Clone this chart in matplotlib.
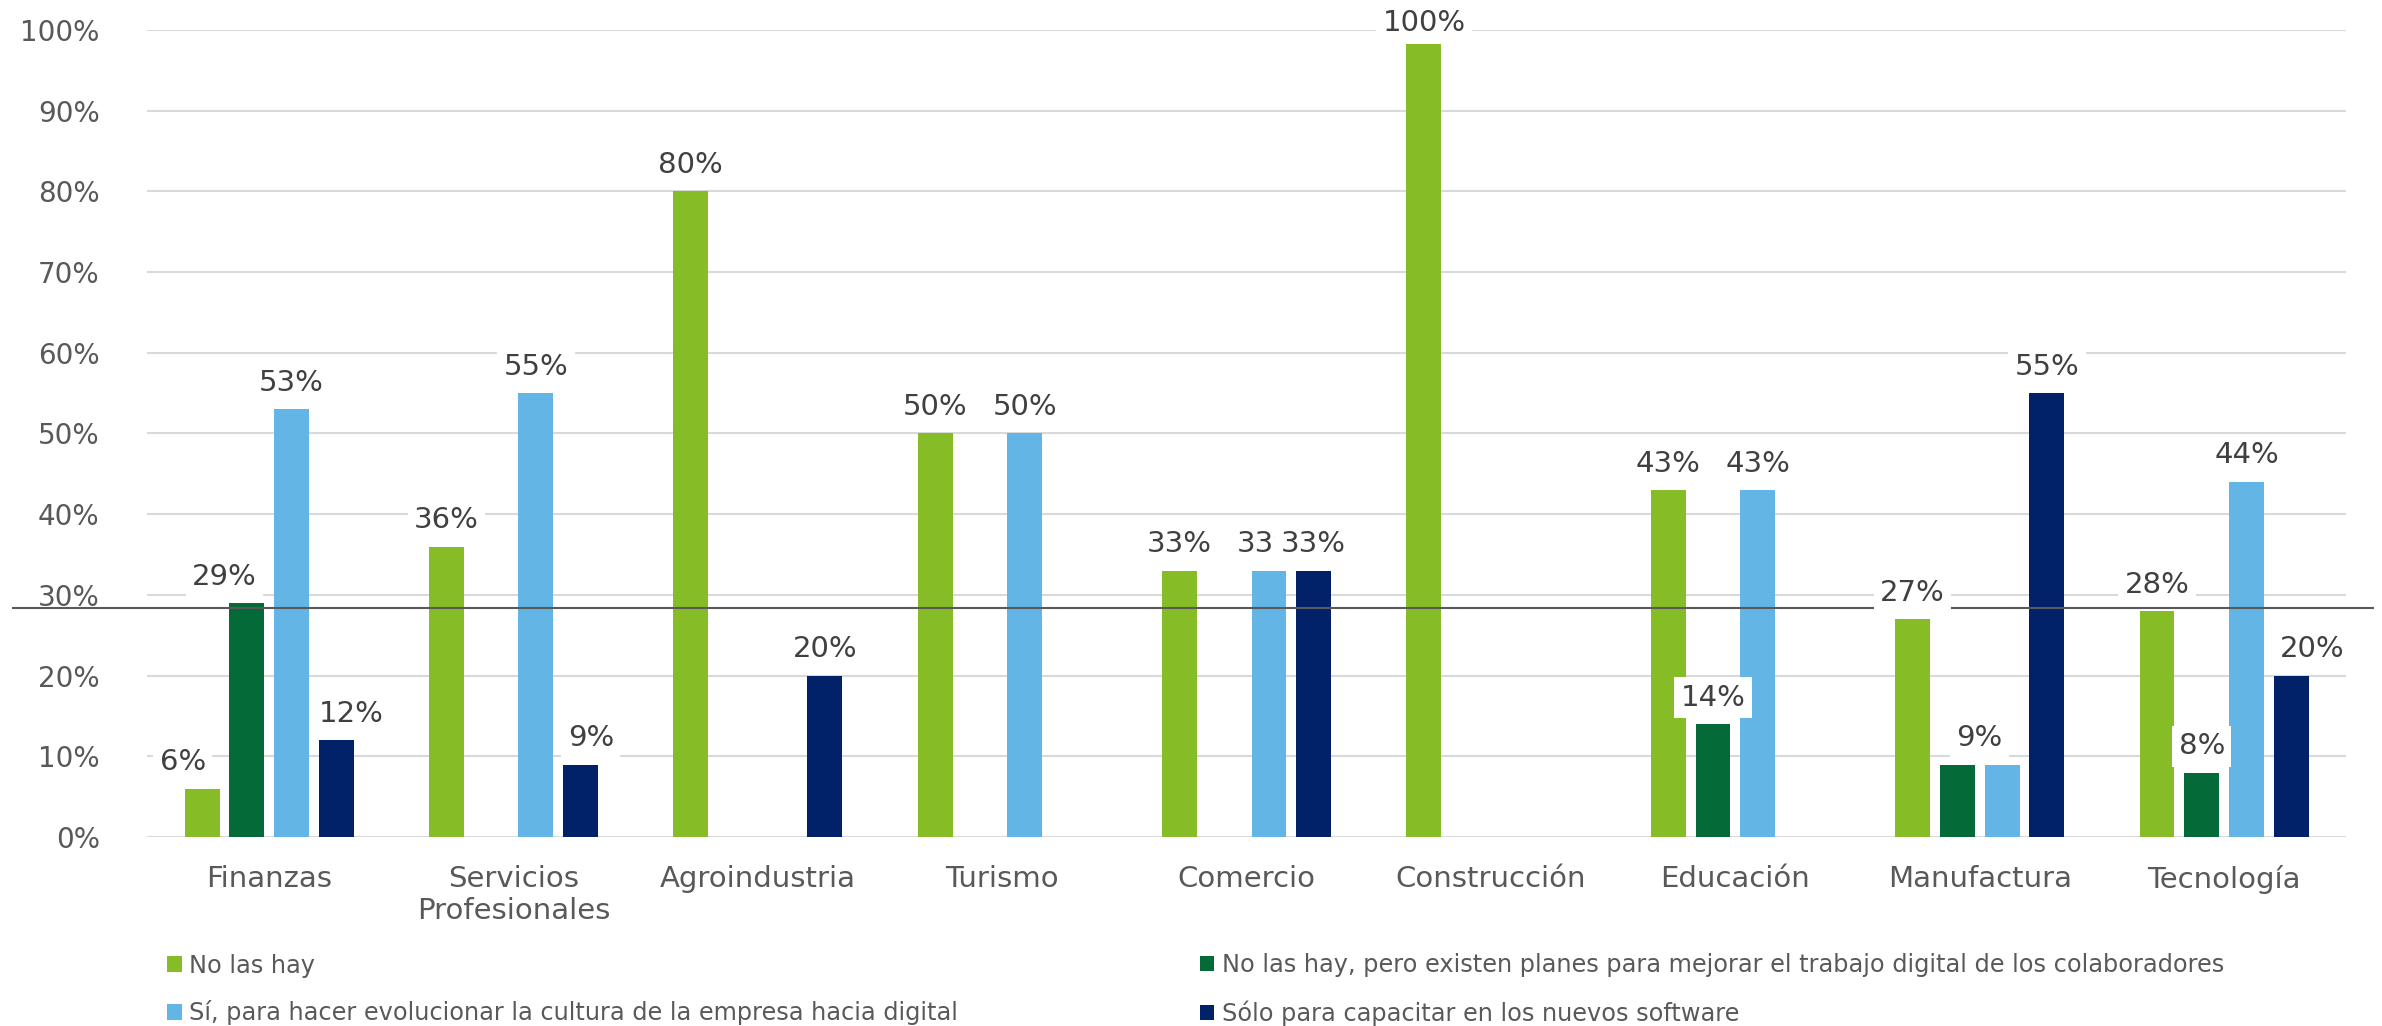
import matplotlib
matplotlib.use("Agg")
import matplotlib.pyplot as plt
import numpy as np
from matplotlib.ticker import PercentFormatter

categories = ["Finanzas", "Servicios\nProfesionales", "Agroindustria", "Turismo",
              "Comercio", "Construcción", "Educación", "Manufactura", "Tecnología"]

series_names = [
    "No las hay",
    "No las hay, pero existen planes para mejorar el trabajo digital de los colaboradores",
    "Sí, para hacer evolucionar la cultura de la empresa hacia digital",
    "Sólo para capacitar en los nuevos software",
]
no_las_hay = [6, 36, 80, 50, 33, 100, 43, 27, 28]
planes = [29, 0, 0, 0, 0, 0, 14, 9, 8]
cultura = [53, 55, 0, 50, 33, 0, 43, 9, 44]
software = [12, 9, 20, 0, 33, 0, 0, 55, 20]
colors = ["#86BC25", "#046A38", "#62B5E5", "#012169"]

ref_value = 28.4
yticks = list(range(0, 101, 10))

fig = plt.figure(figsize=(23.82, 10.26), dpi=100)
ax = fig.add_axes([0.0617, 0.184, 0.9233, 0.787])

x = np.arange(len(categories))
step, width = 0.183, 0.143
offsets = (np.arange(4) - 1.5) * step
all_series = [no_las_hay, planes, cultura, software]

# sideways nudges (series, category) -> x shift, to keep crowded labels apart
label_shift = {(0, 0): -0.079, (1, 0): -0.092, (3, 0): 0.063, (3, 1): 0.042,
               (3, 8): 0.086, (1, 7): step / 2, (2, 7): -step / 2}

bars = []
for i, (vals, col) in enumerate(zip(all_series, colors)):
    b = ax.bar(x + offsets[i], vals, width, color=col, label=series_names[i], zorder=2)
    bars.append(b)

# value labels on white boxes, drawn series by series so later boxes sit on top
for i, vals in enumerate(all_series):
    for j, v in enumerate(vals):
        if v == 0:
            continue
        xpos = x[j] + offsets[i] + label_shift.get((i, j), 0.0)
        ax.annotate(f"{v}%", (xpos, min(v, 97.5)), xytext=(0, 9),
                    textcoords="offset points", ha="center", va="bottom",
                    fontsize=21, color="#404040", zorder=4 + i,
                    bbox=dict(boxstyle="square,pad=0.22", fc="white", ec="none"),
                    annotation_clip=False)

ax.set_xlim(-0.5, 8.5)
ax.set_ylim(0, 100)
ax.set_yticks(yticks)
ax.yaxis.set_major_formatter(PercentFormatter(decimals=0))
ax.set_xticks(x)
ax.set_xticklabels(categories)
ax.tick_params(axis="y", length=0, pad=34, labelsize=20, labelcolor="#595959")
ax.tick_params(axis="x", length=0, pad=20, labelsize=21, labelcolor="#595959")
for lbl in ax.get_xticklabels():
    lbl.set_linespacing(1.2)
ax.grid(axis="y", color="#D9D9D9", lw=1.5, zorder=0)
ax.set_axisbelow(True)
for s in ax.spines.values():
    s.set_visible(False)

# reference line reaching past the plot area
ax.plot([-0.061, 1.012], [ref_value, ref_value], transform=ax.get_yaxis_transform(),
        color="#595959", lw=1.5, clip_on=False, zorder=3)

# legend laid out row by row: two single-column legends side by side
leg_kw = dict(loc="center left", frameon=False, fontsize=17.3, labelcolor="#595959",
              handlelength=0.6, handleheight=0.6, handletextpad=0.3,
              labelspacing=0.95, borderpad=0, borderaxespad=0)
fig.legend(handles=[bars[0], bars[2]], labels=[series_names[0], series_names[2]],
           bbox_to_anchor=(0.0702, 0.0356), **leg_kw)
fig.legend(handles=[bars[1], bars[3]], labels=[series_names[1], series_names[3]],
           bbox_to_anchor=(0.5038, 0.0356), **leg_kw)

fig.savefig("out.png", dpi=100, facecolor="white")
